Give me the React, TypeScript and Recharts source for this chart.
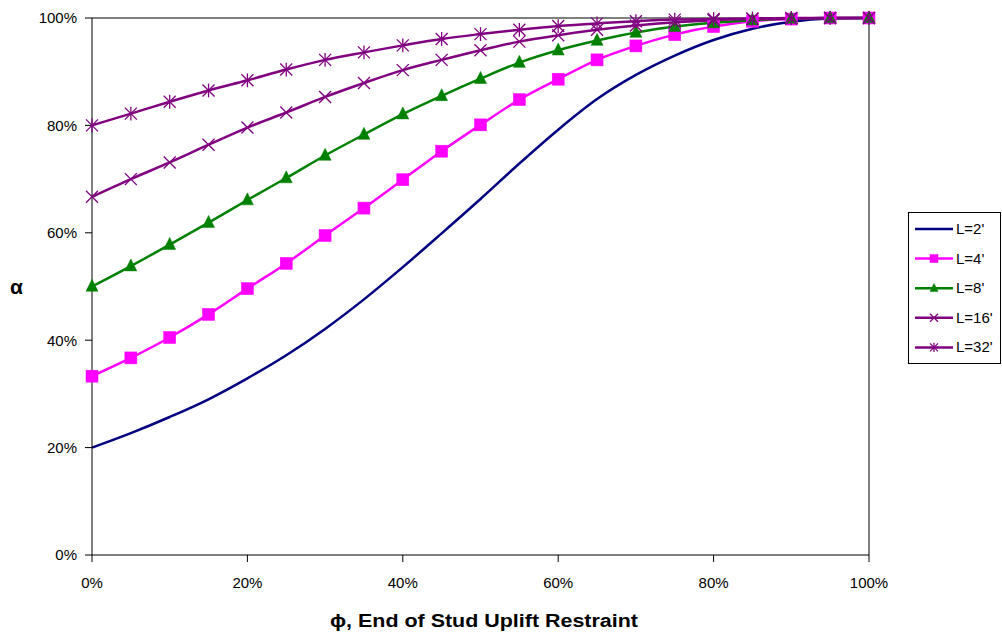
import React from 'react';
import { LineChart, Line, XAxis, YAxis, Legend, ReferenceLine } from 'recharts';

const phi = [0, 5, 10, 15, 20, 25, 30, 35, 40, 45, 50, 55, 60, 65, 70, 75, 80, 85, 90, 95, 100];
const L2 = [20.0, 22.7, 25.7, 29.0, 32.9, 37.2, 42.1, 47.6, 53.6, 59.9, 66.3, 72.9, 79.2, 84.9, 89.4, 93.0, 95.9, 98.0, 99.3, 99.9, 100];
const L4 = [33.3, 36.7, 40.5, 44.8, 49.6, 54.3, 59.5, 64.6, 69.9, 75.2, 80.1, 84.8, 88.6, 92.2, 94.8, 96.9, 98.4, 99.4, 99.8, 100, 100];
const L8 = [50.0, 53.8, 57.8, 61.9, 66.1, 70.2, 74.4, 78.3, 82.1, 85.5, 88.7, 91.7, 94.0, 95.8, 97.3, 98.4, 99.1, 99.6, 99.9, 100, 100];
const L16 = [66.7, 70.0, 73.1, 76.4, 79.6, 82.4, 85.3, 87.9, 90.3, 92.2, 94.0, 95.6, 96.8, 97.8, 98.6, 99.2, 99.6, 99.8, 99.9, 100, 100];
const L32 = [80.0, 82.2, 84.4, 86.5, 88.4, 90.4, 92.2, 93.6, 94.9, 96.1, 97.0, 97.8, 98.5, 99.0, 99.4, 99.7, 99.8, 99.9, 100, 100, 100];
const yTicks = [0, 20, 40, 60, 80, 100];
const xTicks = [0, 20, 40, 60, 80, 100];

const seriesNames = ["L=2'", "L=4'", "L=8'", "L=16'", "L=32'"];
const seriesKeys = ['L2', 'L4', 'L8', 'L16', 'L32'];
const seriesColors = ['#000080', '#FF00FF', '#008000', '#800080', '#800080'];
const seriesMarkers = ['none', 'square', 'triangle', 'x', 'star'];

const data = phi.map((p, i) => ({ phi: p, L2: L2[i], L4: L4[i], L8: L8[i], L16: L16[i], L32: L32[i] }));

const FONT = '"Liberation Sans", Arial, Helvetica, sans-serif';

function drawMarker(kind: string, cx: number, cy: number, color: string, s: number, key?: any) {
  if (cx == null || cy == null || isNaN(cx) || isNaN(cy)) return <g key={key} />;
  const h = s / 2;
  if (kind === 'square') {
    return <rect key={key} x={cx - h} y={cy - h} width={s} height={s} fill={color} stroke={color} strokeWidth={0.5} />;
  }
  if (kind === 'triangle') {
    return (
      <polygon
        key={key}
        points={`${cx},${cy - s * 0.6} ${cx - h},${cy + s * 0.4} ${cx + h},${cy + s * 0.4}`}
        fill={color}
        stroke={color}
        strokeWidth={0.5}
      />
    );
  }
  if (kind === 'x' || kind === 'star') {
    return (
      <g key={key} stroke={color} strokeWidth={1.3}>
        <line x1={cx - h} y1={cy - h} x2={cx + h} y2={cy + h} />
        <line x1={cx - h} y1={cy + h} x2={cx + h} y2={cy - h} />
        {kind === 'star' ? <line x1={cx} y1={cy - h * 1.15} x2={cx} y2={cy + h * 1.15} /> : null}
      </g>
    );
  }
  return <g key={key} />;
}

const makeDot = (kind: string, color: string) => (props: any) =>
  drawMarker(kind, props.cx, props.cy, color, 12, `${kind}-${props.index}`);

const LegendBox = () => (
  <div
    style={{
      width: 93,
      height: 152,
      border: '1px solid #000',
      background: '#fff',
      boxSizing: 'border-box',
    }}
  >
    <svg width={91} height={150} style={{ display: 'block' }}>
      {seriesNames.map((name, i) => {
        const y = 16 + i * 29.6;
        return (
          <g key={name}>
            <line x1={6} x2={44} y1={y} y2={y} stroke={seriesColors[i]} strokeWidth={2.5} />
            {drawMarker(seriesMarkers[i], 25, y, seriesColors[i], 8)}
            <text x={47} y={y + 5} fontSize={15} fontFamily={FONT} fill="#000">
              {name}
            </text>
          </g>
        );
      })}
    </svg>
  </div>
);

const XTitle = (props: any) => {
  const vb = props.viewBox || { x: 92, y: 555, width: 777 };
  return (
    <text
      x={vb.x + vb.width / 2 + 3.5}
      y={vb.y + 72}
      textAnchor="middle"
      fontFamily={FONT}
      fontWeight="bold"
      fontSize={18}
      textLength={308}
      lengthAdjust="spacingAndGlyphs"
      fill="#000"
    >
      ϕ, End of Stud Uplift Restraint
    </text>
  );
};

export default function App() {
  return (
    <div style={{ position: 'absolute', left: 0, top: 0, width: 1002, height: 633, background: '#fff' }}>
      <LineChart
        width={1002}
        height={633}
        data={data}
        margin={{ top: 18, right: 40, left: 0, bottom: 0 }}
        style={{ fontFamily: FONT }}
      >
        <XAxis
          dataKey="phi"
          type="number"
          domain={[0, 100]}
          ticks={xTicks}
          tickFormatter={(v: number) => `${v}%`}
          height={78}
          tickSize={7}
          tickMargin={15}
          axisLine={{ stroke: '#000', strokeWidth: 1 }}
          tickLine={{ stroke: '#000', strokeWidth: 1 }}
          tick={{ fill: '#000', fontSize: 15, fontFamily: FONT }}
          label={<XTitle />}
        />
        <YAxis
          type="number"
          domain={[0, 100]}
          ticks={yTicks}
          tickFormatter={(v: number) => `${v}%`}
          width={92}
          tickSize={7}
          tickMargin={8}
          axisLine={{ stroke: '#000', strokeWidth: 1 }}
          tickLine={{ stroke: '#000', strokeWidth: 1 }}
          tick={{ fill: '#000', fontSize: 15, fontFamily: FONT }}
          label={{
            value: 'α',
            position: 'insideLeft',
            offset: 10,
            style: { fontWeight: 'bold', fontSize: 21, fill: '#000', fontFamily: FONT },
          }}
        />
        <ReferenceLine y={100} stroke="#000" strokeWidth={1} />
        <ReferenceLine x={100} stroke="#000" strokeWidth={1} />
        {seriesKeys.map((k, i) => (
          <Line
            key={k}
            dataKey={k}
            name={seriesNames[i]}
            type="monotone"
            stroke={seriesColors[i]}
            strokeWidth={2.5}
            dot={seriesMarkers[i] === 'none' ? false : makeDot(seriesMarkers[i], seriesColors[i])}
            activeDot={false}
            isAnimationActive={false}
          />
        ))}
        <Legend
          layout="horizontal"
          verticalAlign="middle"
          align="right"
          content={<LegendBox />}
          wrapperStyle={{ position: 'absolute', left: 908, top: 212, width: 93, height: 152 }}
        />
      </LineChart>
    </div>
  );
}
